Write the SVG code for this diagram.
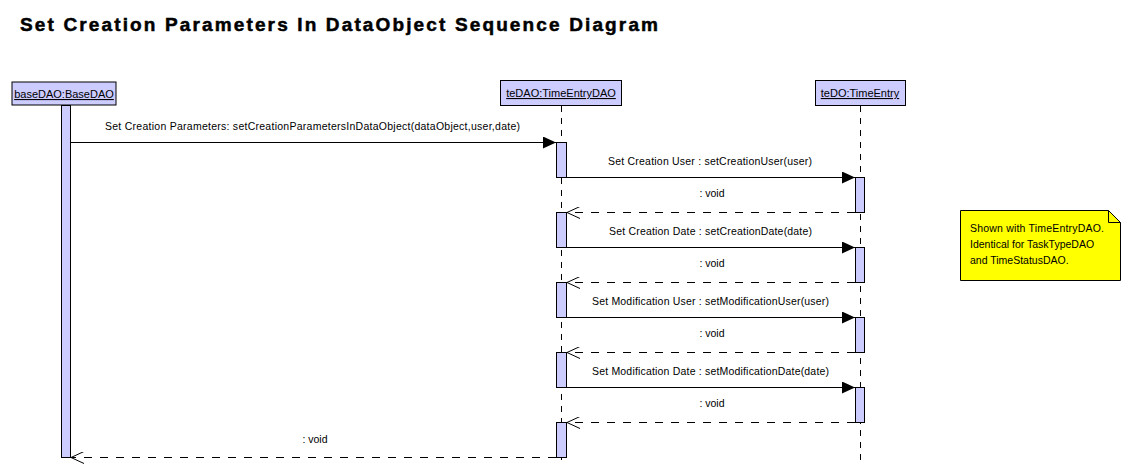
<svg xmlns="http://www.w3.org/2000/svg" width="1130" height="468" viewBox="0 0 1130 468">
<defs>
<marker id="filled" markerWidth="14" markerHeight="12" refX="13" refY="6" orient="auto" markerUnits="userSpaceOnUse">
<path d="M0,0 L13,6 L0,12 Z" fill="#000"/>
</marker>
<marker id="open" markerWidth="14" markerHeight="12" refX="13" refY="6" orient="auto" markerUnits="userSpaceOnUse">
<path d="M0,0 L13,6 L0,12" fill="none" stroke="#000" stroke-width="1"/>
</marker>
</defs>
<style>
text{font-family:"Liberation Sans",Arial,sans-serif;fill:#000}
.title{font-size:19px;font-weight:bold;stroke:#000;stroke-width:0.5}
.obj{fill:#ccccff;stroke:#000;stroke-width:1}
.objt{font-size:11px;text-anchor:middle;text-decoration:underline}
.life{stroke:#000;stroke-width:1;stroke-dasharray:6,6;fill:none}
.act{fill:#ccccff;stroke:#000;stroke-width:1}
.call{stroke:#000;stroke-width:1;fill:none;marker-end:url(#filled)}
.ret{stroke:#000;stroke-width:1;fill:none;stroke-dasharray:8,8;marker-end:url(#open)}
.lbl{font-size:10.5px;text-anchor:middle}
.note{fill:#ffff00;stroke:#000;stroke-width:1}
.nt{font-size:10.5px}
</style>
<rect width="1130" height="468" fill="#fff"/>
<text class="title" x="20" y="31" textLength="638" lengthAdjust="spacing">Set Creation Parameters In DataObject Sequence Diagram</text>

<g id="baseDAO">
<rect class="obj" x="12" y="82" width="104" height="23" stroke-width="3"/>
<text class="objt" x="64" y="98">baseDAO:BaseDAO</text>
<rect class="act" x="61.5" y="105.5" width="9" height="352"/>
</g>

<g id="teDAO">
<rect class="obj" x="500.5" y="80.5" width="121" height="25"/>
<text class="objt" x="561" y="97">teDAO:TimeEntryDAO</text>
<line class="life" x1="561.5" y1="106" x2="561.5" y2="460"/>
<rect class="act" x="556.5" y="142.5" width="10" height="35"/>
<rect class="act" x="556.5" y="212.5" width="10" height="35"/>
<rect class="act" x="556.5" y="282.5" width="10" height="35"/>
<rect class="act" x="556.5" y="352.5" width="10" height="35"/>
<rect class="act" x="556.5" y="422.5" width="10" height="35"/>
</g>

<g id="teDO">
<rect class="obj" x="815.5" y="80.5" width="90" height="25"/>
<text class="objt" x="860" y="97">teDO:TimeEntry</text>
<line class="life" x1="860.5" y1="106" x2="860.5" y2="460"/>
<rect class="act" x="855.5" y="177.5" width="9" height="35"/>
<rect class="act" x="855.5" y="247.5" width="9" height="35"/>
<rect class="act" x="855.5" y="317.5" width="9" height="35"/>
<rect class="act" x="855.5" y="387.5" width="9" height="35"/>
</g>

<g id="note">
<path class="note" d="M960.5,210.5 H1108.5 L1120.5,222.5 V280.5 H960.5 Z"/>
<path d="M1108.5,210.5 V222.5 H1120.5" fill="none" stroke="#000" stroke-width="1"/>
<text class="nt" x="970" y="232" textLength="134" lengthAdjust="spacing">Shown with TimeEntryDAO.</text>
<text class="nt" x="970" y="248">Identical for TaskTypeDAO</text>
<text class="nt" x="970" y="264">and TimeStatusDAO.</text>
</g>

<g id="connectors">
<line class="call" x1="71" y1="142.5" x2="556" y2="142.5"/>
<text class="lbl" x="312.5" y="129.5" textLength="415" lengthAdjust="spacing">Set Creation Parameters: setCreationParametersInDataObject(dataObject,user,date)</text>

<line class="call" x1="567" y1="177.5" x2="855" y2="177.5"/>
<text class="lbl" x="710" y="165" textLength="204" lengthAdjust="spacing">Set Creation User : setCreationUser(user)</text>
<line class="ret" x1="855" y1="212.5" x2="567" y2="212.5"/>
<text class="lbl" x="712" y="197">: void</text>

<line class="call" x1="567" y1="247.5" x2="855" y2="247.5"/>
<text class="lbl" x="710.5" y="235" textLength="203" lengthAdjust="spacing">Set Creation Date : setCreationDate(date)</text>
<line class="ret" x1="855" y1="282.5" x2="567" y2="282.5"/>
<text class="lbl" x="712" y="267">: void</text>

<line class="call" x1="567" y1="317.5" x2="855" y2="317.5"/>
<text class="lbl" x="710.5" y="305" textLength="237" lengthAdjust="spacing">Set Modification User : setModificationUser(user)</text>
<line class="ret" x1="855" y1="352.5" x2="567" y2="352.5"/>
<text class="lbl" x="712" y="337">: void</text>

<line class="call" x1="567" y1="387.5" x2="855" y2="387.5"/>
<text class="lbl" x="710.5" y="375" textLength="237" lengthAdjust="spacing">Set Modification Date : setModificationDate(date)</text>
<line class="ret" x1="855" y1="422.5" x2="567" y2="422.5"/>
<text class="lbl" x="712" y="407">: void</text>

<line class="ret" x1="556" y1="457.5" x2="71" y2="457.5"/>
<text class="lbl" x="315" y="443">: void</text>
</g>
</svg>
